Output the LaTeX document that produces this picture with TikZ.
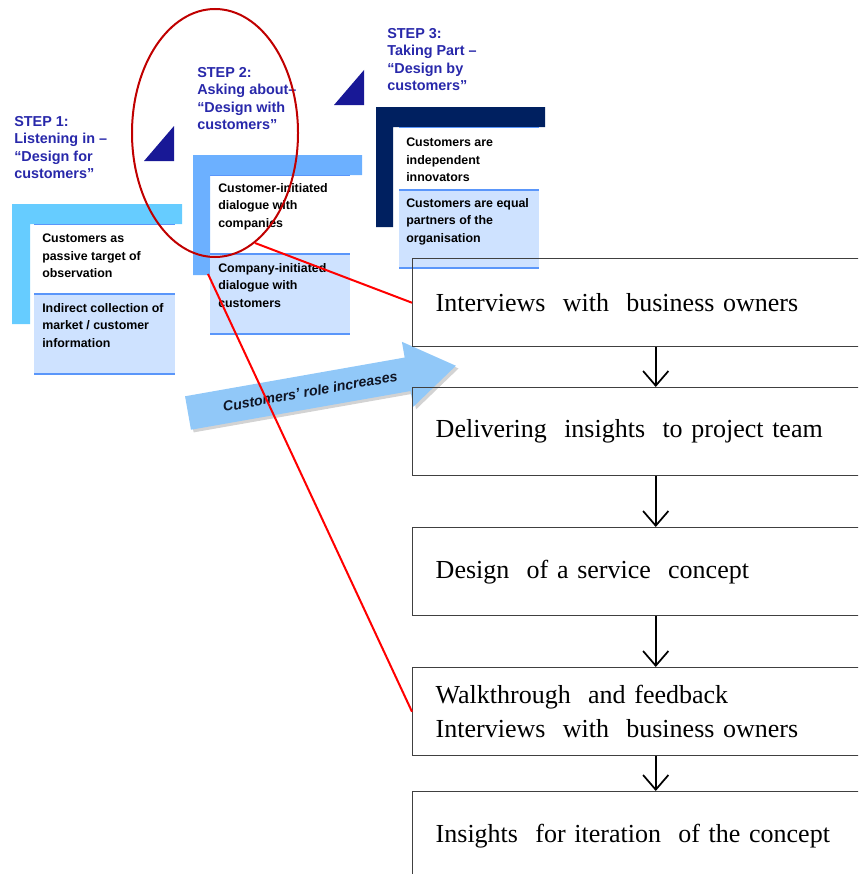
\documentclass[tikz,border=0pt]{standalone}
\usepackage{fontspec}
\setmainfont{Liberation Serif}
\setsansfont{Liberation Sans}
\usetikzlibrary{arrows.meta,shadows}
\definecolor{stepblue}{RGB}{40,40,170}
\definecolor{tridark}{RGB}{24,24,150}
\definecolor{lcyan}{RGB}{102,204,255}
\definecolor{lmid}{RGB}{108,176,255}
\definecolor{lnavy}{RGB}{0,32,96}
\definecolor{paleblue}{RGB}{206,226,255}
\definecolor{edgeblue}{RGB}{90,150,250}
\definecolor{arrowblue}{RGB}{145,200,248}
\definecolor{ringred}{RGB}{192,0,0}
\tikzset{
  flowbox/.style={draw=black!75, line width=1.1pt, anchor=north west, minimum width=364.5pt,
    minimum height=66pt, text width=330pt, inner xsep=17pt, align=left,
    font=\fontsize{19.5}{25.5}\selectfont},
  steplabel/.style={anchor=north west, inner sep=0pt, align=left, text=stepblue,
    font=\sffamily\bfseries\fontsize{10.8}{13.1}\selectfont},
  cardtext/.style={anchor=north west, inner sep=0pt, align=left,
    font=\sffamily\bfseries\fontsize{9.3}{13.1}\selectfont},
  flowarrow/.style={-{Straight Barb[length=11pt,width=19pt]}, line width=1.3pt}
}
\begin{document}
\begin{tikzpicture}[x=0.75pt, y=-0.75pt]
		\useasboundingbox (0,0) rectangle (858,874);
		\clip (0,0) rectangle (858,874);
		% step 1 panel
		\fill[lcyan] (12,204) -| (182,224) -| (30,324) -| (12,204) -- cycle;
		\draw[edgeblue, line width=0.6pt] (34,224) -- (175,224);
		\fill[paleblue] (34,294) rectangle (175,374);
		\draw[edgeblue, line width=1.1pt] (34,294) -- (175,294) (34,374) -- (175,374);
		\node[cardtext] (c1a) at (42,234) {Customers as\\passive target of\\observation};
		\node[cardtext] (c1b) at (42,303) {Indirect collection of\\market / customer\\information};
		% step 2 panel
		\fill[lmid] (193,155) -| (362,175) -| (210,275) -| (193,155) -- cycle;
		\draw[edgeblue, line width=0.6pt] (210,175) -- (350,175);
		\fill[paleblue] (210,254) rectangle (350,334);
		\draw[edgeblue, line width=1.1pt] (210,254) -- (350,254) (210,334) -- (350,334);
		\node[cardtext] (c2a) at (218,183) {Customer-initiated\\dialogue with\\companies};
		\node[cardtext] (c2b) at (218,263) {Company-initiated\\dialogue with\\customers};
		% step 3 panel
		\fill[lnavy] (376,107) -| (545,127) -| (393,227) -| (376,107) -- cycle;
		\draw[edgeblue, line width=0.6pt] (399,127) -- (539,127);
		\fill[paleblue] (399,190) rectangle (539,268);
		\draw[edgeblue, line width=1.1pt] (399,190) -- (539,190) (399,268) -- (539,268);
		\node[cardtext] (c3a) at (406,138) {Customers are\\independent\\innovators};
		\node[cardtext] (c3b) at (406,198) {Customers are equal\\partners of the\\organisation};
		% step labels and wedges
		\node[steplabel] (s1) at (14,116) {STEP 1:\\Listening in –\\“Design for\\customers”};
		\node[steplabel] (s2) at (197,67) {STEP 2:\\Asking about–\\“Design with\\customers”};
		\node[steplabel] (s3) at (387,28) {STEP 3:\\Taking Part –\\“Design by\\customers”};
		\fill[tridark] (144,161) -- (174,161) -- (174,126) -- cycle;
		\fill[tridark] (334,105) -- (364,105) -- (364,70) -- cycle;
		% role arrow
		\begin{scope}[shift={(188,413)}, rotate=10]
			\fill[arrowblue, drop shadow={shadow xshift=2pt, shadow yshift=-2pt, opacity=0.35}]
				(0,-17) -- (223,-17) -- (223,-33) -- (272,0) -- (223,33) -- (223,17) -- (0,17) -- cycle;
			\node[rotate=10, text={rgb,255:red,15;green,20;blue,35}, font=\sffamily\bfseries\itshape\fontsize{10.6}{12}\selectfont] (role) at (124,0) {Customers’ role increases};
		\end{scope}
		% ring
		\draw[ringred, line width=1.5pt] (215,133) ellipse [x radius=83, y radius=124];
		% process
		\node[flowbox] (b1) at (412,258) {Interviews~ with~ business owners};
		\node[flowbox] (b2) at (412,387) {Delivering~ insights~ to project team};
		\node[flowbox] (b3) at (412,527) {Design~ of a service~ concept};
		\node[flowbox] (b4) at (412,667) {Walkthrough~ and feedback\\Interviews~ with~ business owners};
		\node[flowbox] (b5) at (412,791) {Insights~ for iteration~ of the concept};
		\draw[flowarrow] (b1.south) -- (b2.north);
		\draw[flowarrow] (b2.south) -- (b3.north);
		\draw[flowarrow] (b3.south) -- (b4.north);
		\draw[flowarrow] (b4.south) -- (b5.north);
		% links
		\coordinate (r1) at (255,243);
		\coordinate (r2) at (208,274);
		\draw[red, line width=1.5pt] (r1) -- (b1.west);
		\draw[red, line width=1.5pt] (r2) -- (b4.west);
\end{tikzpicture}
\end{document}
